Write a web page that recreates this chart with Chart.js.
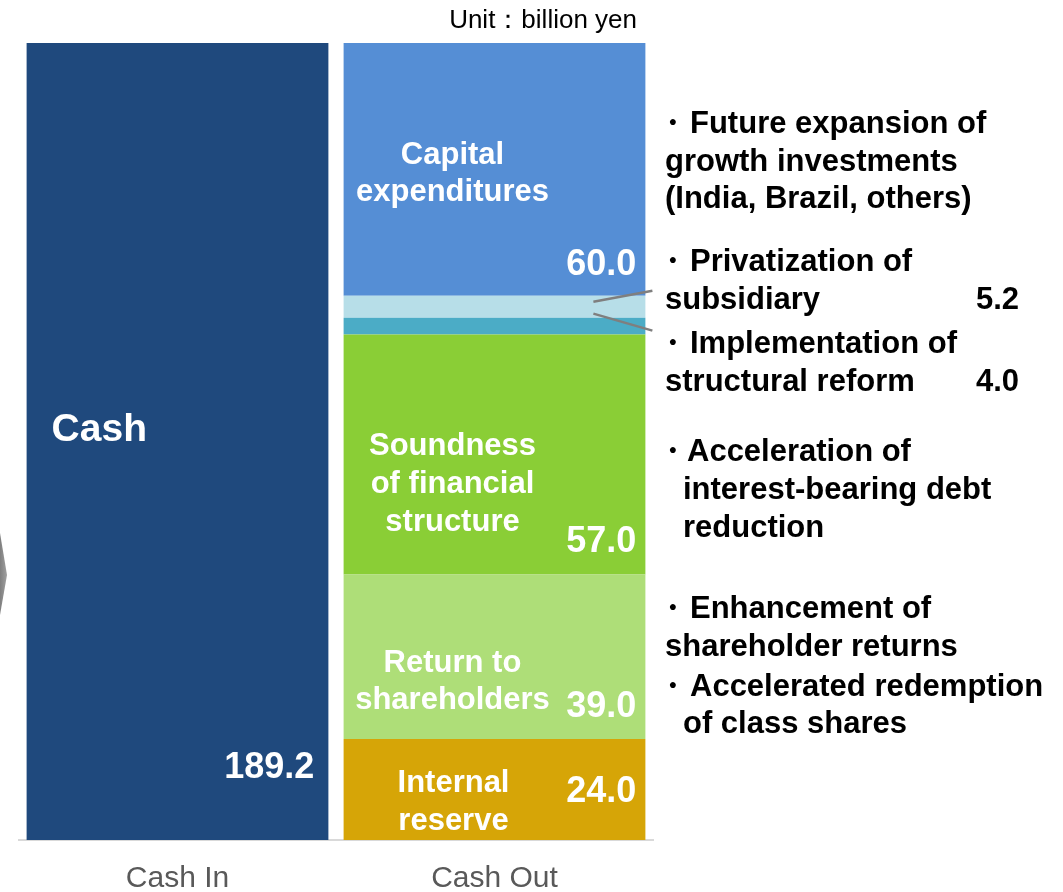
<!DOCTYPE html>
<html lang="en">
<head>
<meta charset="UTF-8">
<title>Cash In / Cash Out</title>
<script src="https://cdn.jsdelivr.net/npm/chart.js"></script>
<style>
  body { margin: 0; background: #fff; }
  #wrap { width: 1063px; height: 892px; }
</style>
</head>
<body>
<div id="wrap"><canvas id="cashChart" width="1063" height="892"></canvas></div>
<script>
// data (billion yen)
const categories = ['Cash In', 'Cash Out'];
const cashIn = [189.2, null];
const internalReserve = [null, 24.0];
const returnToShareholders = [null, 39.0];
const financialSoundness = [null, 57.0];
const structuralReform = [null, 4.0];
const privatization = [null, 5.2];
const capitalExpenditures = [null, 60.0];

const FONT = '"Liberation Sans", Arial, sans-serif';

// labels written inside the segments
// dataset index -> lines, alignment and offsets from the segment edges
const innerLabels = [
  { ds: 0, lines: ['Cash'], align: 'left', dx: 25, top: 387, step: 0, value: { fromBottom: 72, dx: 14 } },
  { ds: 1, lines: ['Internal', 'reserve'], align: 'center', dx: -41, top: 45, step: 38, value: { fromTop: 53, dx: 9 } },
  { ds: 2, lines: ['Return to', 'shareholders'], align: 'center', dx: -42, top: 89, step: 37, value: { fromBottom: 32, dx: 9 } },
  { ds: 3, lines: ['Soundness', 'of financial', 'structure'], align: 'center', dx: -42, top: 112, step: 38, value: { fromBottom: 33, dx: 9 } },
  { ds: 6, lines: ['Capital', 'expenditures'], align: 'center', dx: -42, top: 112, step: 37, value: { fromBottom: 31, dx: 9 } }
];

const segmentLabels = {
  id: 'segmentLabels',
  beforeDraw(chart) {
    // grey arrow tip coming in from the left
    const c = chart.ctx;
    c.save();
    const g = c.createLinearGradient(0, 0, 8, 0);
    g.addColorStop(0, '#7f7f7f');
    g.addColorStop(1, '#a6a6a6');
    c.fillStyle = g;
    c.beginPath();
    c.moveTo(0, 533);
    c.lineTo(7, 575);
    c.lineTo(0, 615);
    c.closePath();
    c.fill();
    c.restore();
  },
  afterDatasetsDraw(chart) {
    const c = chart.ctx;
    c.save();
    c.fillStyle = '#ffffff';
    c.textBaseline = 'middle';
    innerLabels.forEach(lab => {
      const meta = chart.getDatasetMeta(lab.ds);
      const data = chart.data.datasets[lab.ds].data;
      meta.data.forEach((el, i) => {
        if (data[i] == null) return;
        const left = el.x - el.width / 2;
        const right = el.x + el.width / 2;
        const top = Math.min(el.y, el.base);
        const bottom = Math.max(el.y, el.base);
        const bigTitle = lab.ds === 0;
        c.font = 'bold ' + (bigTitle ? 39 : 31) + 'px ' + FONT;
        c.textAlign = lab.align;
        const x = lab.align === 'left' ? left + lab.dx : el.x + lab.dx;
        lab.lines.forEach((t, k) => c.fillText(t, x, top + lab.top + k * lab.step));
        c.font = 'bold 36px ' + FONT;
        c.textAlign = 'right';
        const vy = lab.value.fromBottom != null ? bottom - lab.value.fromBottom : top + lab.value.fromTop;
        c.fillText(data[i].toFixed(1), right - lab.value.dx, vy);
      });
    });

    // leader lines from the two thin segments
    const pEl = chart.getDatasetMeta(5).data[1];
    const sEl = chart.getDatasetMeta(4).data[1];
    const rx = pEl.x + pEl.width / 2;
    c.strokeStyle = '#7f7f7f';
    c.lineWidth = 2.5;
    c.beginPath();
    c.moveTo(rx - 52, pEl.y + 6);
    c.lineTo(rx + 7, pEl.y - 5);
    c.moveTo(rx - 52, sEl.y - 4);
    c.lineTo(rx + 7, sEl.y + 13);
    c.stroke();

    // unit note
    c.fillStyle = '#000000';
    c.font = '26px ' + FONT;
    c.textAlign = 'right';
    c.fillText('Unit：billion yen', 637, 21);

    // notes on the right
    c.font = 'bold 31px ' + FONT;
    const notes = [
      { y: 124, b: true, x: 690, t: 'Future expansion of' },
      { y: 162, x: 665, t: 'growth investments' },
      { y: 199, x: 665, t: '(India, Brazil, others)' },
      { y: 262, b: true, x: 690, t: 'Privatization of' },
      { y: 300, x: 665, t: 'subsidiary', v: privatization[1] },
      { y: 344, b: true, x: 690, t: 'Implementation of' },
      { y: 382, x: 665, t: 'structural reform', v: structuralReform[1] },
      { y: 452, b: true, x: 687, t: 'Acceleration of' },
      { y: 490, x: 683, t: 'interest-bearing debt' },
      { y: 528, x: 683, t: 'reduction' },
      { y: 609, b: true, x: 690, t: 'Enhancement of' },
      { y: 647, x: 665, t: 'shareholder returns' },
      { y: 687, b: true, x: 690, t: 'Accelerated redemption' },
      { y: 724, x: 683, t: 'of class shares' }
    ];
    notes.forEach(n => {
      c.textAlign = 'left';
      c.fillText(n.t, n.x, n.y);
      if (n.b) {
        c.textAlign = 'center';
        c.fillText('・', 672, n.y);
      }
      if (n.v != null) {
        c.textAlign = 'right';
        c.fillText(n.v.toFixed(1), 1019, n.y);
      }
    });
    c.restore();
  }
};

const ctx = document.getElementById('cashChart').getContext('2d');

const cashChart = new Chart(ctx, {
  type: 'bar',
  data: {
    labels: categories,
    datasets: [
      { label: 'Cash', data: cashIn, backgroundColor: '#1F497D' },
      { label: 'Internal reserve', data: internalReserve, backgroundColor: '#D6A507' },
      { label: 'Return to shareholders', data: returnToShareholders, backgroundColor: '#AEDE78' },
      { label: 'Soundness of financial structure', data: financialSoundness, backgroundColor: '#8ACE36' },
      { label: 'Implementation of structural reform', data: structuralReform, backgroundColor: '#4BACC6' },
      { label: 'Privatization of subsidiary', data: privatization, backgroundColor: '#B7DEE8' },
      { label: 'Capital expenditures', data: capitalExpenditures, backgroundColor: '#558ED5' }
    ]
  },
  options: {
    responsive: false,
    animation: false,
    barPercentage: 0.952,
    categoryPercentage: 1.0,
    layout: {
      padding: { left: 19, right: 410, top: 43, bottom: -18 }
    },
    plugins: {
      legend: { display: false },
      tooltip: { enabled: false }
    },
    scales: {
      x: {
        stacked: true,
        grid: { display: false },
        border: { display: true, color: '#D9D9D9', width: 2 },
        ticks: {
          color: '#595959',
          padding: 16,
          font: { family: FONT, size: 30, lineHeight: 1 }
        }
      },
      y: {
        stacked: true,
        display: false,
        min: 0,
        max: 189.2
      }
    }
  },
  plugins: [segmentLabels]
});
</script>
</body>
</html>
